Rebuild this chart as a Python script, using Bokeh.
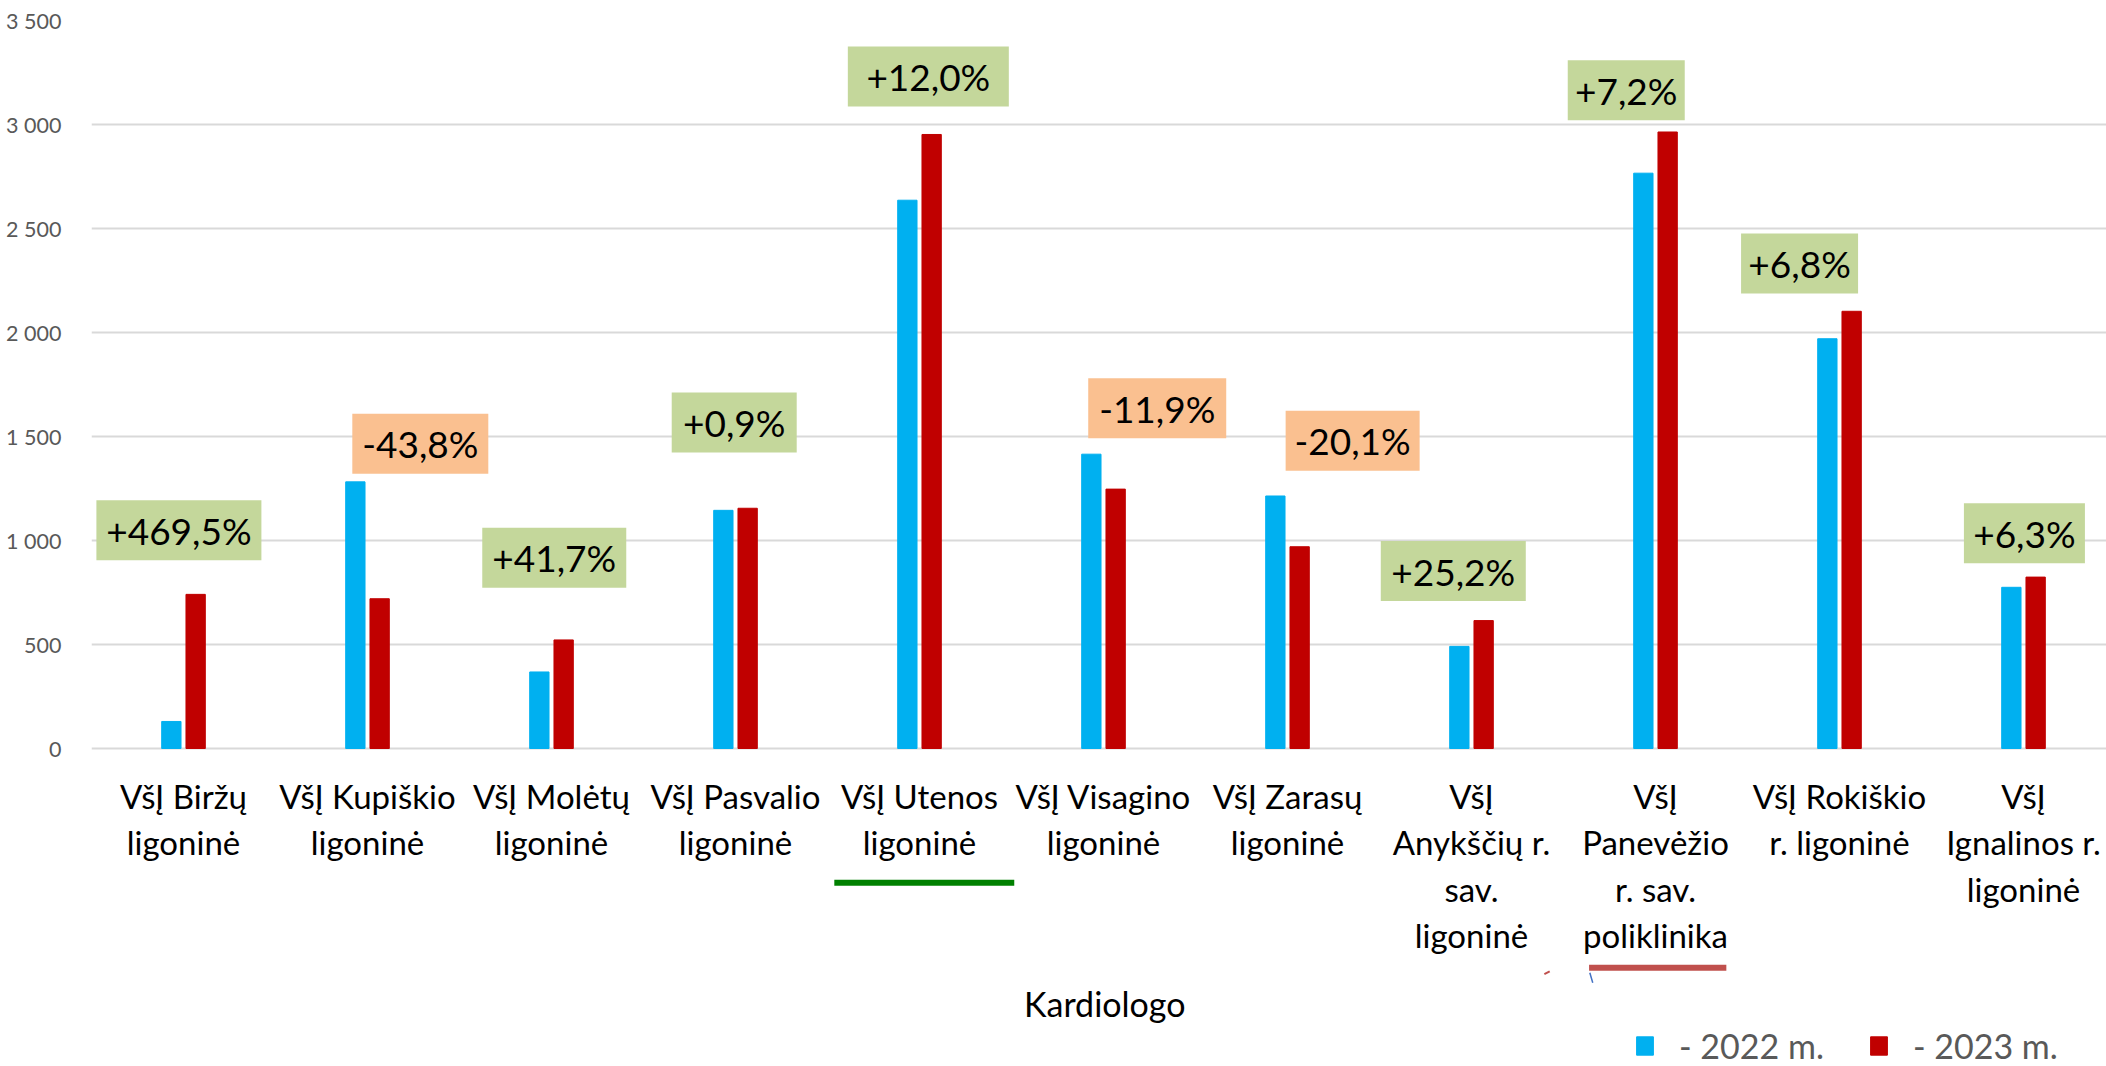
import numpy as np
from bokeh.plotting import figure
from bokeh.models import Range1d, FixedTicker, ColumnDataSource, Legend, LegendItem
from bokeh.core.properties import value
from bokeh.embed import file_html
from bokeh.resources import INLINE

# ---------------- data ----------------
categories = [
    "VšĮ Biržų\nligoninė",
    "VšĮ Kupiškio\nligoninė",
    "VšĮ Molėtų\nligoninė",
    "VšĮ Pasvalio\nligoninė",
    "VšĮ Utenos\nligoninė",
    "VšĮ Visagino\nligoninė",
    "VšĮ Zarasų\nligoninė",
    "VšĮ\nAnykščių r.\nsav.\nligoninė",
    "VšĮ\nPanevėžio\nr. sav.\npoliklinika",
    "VšĮ Rokiškio\nr. ligoninė",
    "VšĮ\nIgnalinos r.\nligoninė",
]
values_2022 = [130, 1282, 368, 1145, 2636, 1415, 1214, 491, 2766, 1970, 775]
values_2023 = [741, 720, 522, 1155, 2952, 1247, 970, 615, 2964, 2102, 824]
change_labels = ["+469,5%", "-43,8%", "+41,7%", "+0,9%", "+12,0%", "-11,9%",
                 "-20,1%", "+25,2%", "+7,2%", "+6,8%", "+6,3%"]
y_ticks = [0, 500, 1000, 1500, 2000, 2500, 3000, 3500]
tick_labels = ["0", "500", "1 000", "1 500", "2 000", "2 500", "3 000", "3 500"]
series_names = ["- 2022 m.", "- 2023 m."]
axis_title = "Kardiologo"

# label placement (category units offset from category centre / value units)
label_dx = [-0.025, 0.287, 0.015, -0.007, 0.048, 0.292, 0.354, -0.099, -0.159, -0.217, 0.005]
label_y = [1049, 1465, 917, 1567, 3231, 1636, 1480, 853, 3165, 2332, 1035]
label_w = [165, 136, 144, 125, 161, 138, 134, 145, 117, 117, 121]

# ---------------- styles ----------------
BLUE = "#00B0F0"
RED = "#C00000"
GREEN_BOX = "#C4D79B"
ORANGE_BOX = "#FAC090"
FONT = "Lato"

n = len(categories)
centers = np.arange(n) + 0.5

W, H = 2106, 1066
LEFT, TOP = 91, 20
PX_PER_UNIT = 728 / 3500.0
x_end = (W - LEFT) / 184.0
y_start = 3500 - (H - TOP) / PX_PER_UNIT

p = figure(width=W, height=H, output_backend="svg", toolbar_location=None,
           x_range=Range1d(0, x_end), y_range=Range1d(y_start, 3500),
           x_axis_location=None, tools="")
p.min_border = 0
p.min_border_left = LEFT
p.min_border_top = TOP
p.outline_line_color = None
p.background_fill_color = "white"
p.border_fill_color = "white"
p.xgrid.visible = False

# y axis
p.yaxis.ticker = FixedTicker(ticks=y_ticks)
p.yaxis.major_label_overrides = {t: l for t, l in zip(y_ticks, tick_labels)}
p.yaxis.axis_line_color = None
p.yaxis.major_tick_line_color = None
p.yaxis.minor_tick_line_color = None
p.yaxis.major_label_standoff = 24
p.yaxis.major_label_text_font = FONT
p.yaxis.major_label_text_font_size = "21.5px"
p.yaxis.major_label_text_color = "#595959"
p.ygrid.grid_line_color = "#D9D9D9"
p.ygrid.grid_line_width = 2

# bars
bw = 0.105
r1 = p.vbar(x=centers - 0.066, top=values_2022, width=bw, bottom=0,
            fill_color=BLUE, line_color=BLUE)
r2 = p.vbar(x=centers + 0.066, top=values_2023, width=bw, bottom=0,
            fill_color=RED, line_color=RED)

# change labels
box_colors = [ORANGE_BOX if s.startswith("-") else GREEN_BOX for s in change_labels]
lab_src = ColumnDataSource(dict(x=centers + np.array(label_dx), y=label_y, w=label_w,
                                text=change_labels, color=box_colors))
p.rect(x="x", y="y", width="w", height=60, width_units="screen", height_units="screen",
       fill_color="color", line_color=None, source=lab_src)
p.text(x="x", y="y", text="text", source=lab_src, text_align="center",
       text_baseline="middle", text_font=value(FONT), text_font_size="37px",
       text_color="black")

# category labels
p.text(x=centers, y=[-132] * n, text=categories, text_align="center",
       text_baseline="top", text_font=value(FONT), text_font_size="33px",
       text_line_height=1.16, text_color="black")

# axis title
p.text(x=[n / 2.0 + 0.007], y=[-1225], text=[axis_title], text_align="center",
       text_baseline="alphabetic", text_font=value(FONT), text_font_size="34px",
       text_color="black")

# highlight underlines and small marks beneath labels
p.segment(x0=[4.037], y0=[-645], x1=[5.015], y1=[-645], line_color="#008000", line_width=6)
p.segment(x0=[8.139], y0=[-1054], x1=[8.885], y1=[-1054], line_color="#C0504D", line_width=6)
p.segment(x0=[7.896], y0=[-1085], x1=[7.925], y1=[-1071], line_color="#C0504D", line_width=2)
p.segment(x0=[8.143], y0=[-1078], x1=[8.159], y1=[-1126], line_color="#4472C4", line_width=1.5)

# legend
legend = Legend(items=[LegendItem(label=series_names[0], renderers=[r1]),
                       LegendItem(label=series_names[1], renderers=[r2])],
                location=(1543, 0), orientation="horizontal",
                glyph_width=21, glyph_height=23, label_standoff=24, spacing=44,
                padding=0, margin=0, border_line_color=None,
                background_fill_alpha=0, label_text_font=FONT,
                label_text_font_size="34px", label_text_color="#595959")
p.add_layout(legend)

open("out.html", "w").write(file_html(p, INLINE))
